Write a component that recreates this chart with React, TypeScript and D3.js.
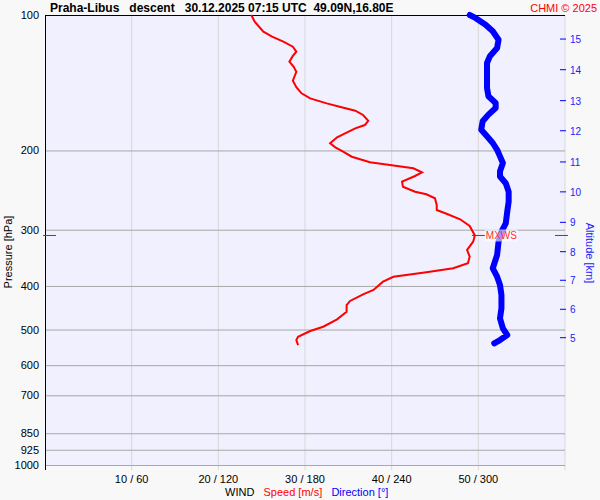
import React, { useRef, useEffect } from 'react';
import * as d3 from 'd3';

// wind speed (m/s) along the descent, with its pressure levels (hPa)
const speedPres = [100, 103.5, 108.9, 111.7, 114.6, 117.6, 120.6, 123.3, 127.0, 130.3, 133.7, 139.9, 144.7, 149.3, 153.2, 157.2, 159.9, 163.2, 166.8, 171.8, 175.6, 178.6, 182.6, 187.0, 192.8, 196.8, 201.3, 206.5, 212.5, 215.4, 219.1, 223.6, 227.9, 234.6, 240.7, 247.0, 250.3, 255.5, 264.4, 271.3, 276.9, 284.4, 294.4, 309.0, 319.0, 332.8, 344.4, 356.3, 365.5, 373.1, 381.6, 391.4, 408.4, 417.5, 432.0, 441.0, 456.4, 474.5, 492.9, 503.8, 518.8, 527.7, 541.3];
const speed = [23.8, 24.2, 25.2, 26.2, 27.5, 28.6, 29.0, 28.6, 28.2, 28.7, 29.0, 28.6, 29.0, 29.6, 30.6, 32.5, 34.0, 35.8, 36.7, 37.3, 36.9, 35.8, 34.8, 33.7, 32.9, 33.5, 34.4, 35.4, 37.5, 39.8, 42.5, 43.5, 42.7, 41.2, 41.3, 42.7, 44.0, 45.0, 45.2, 45.2, 46.4, 47.9, 49.0, 49.6, 49.4, 48.7, 49.0, 48.8, 47.1, 44.0, 40.2, 39.0, 37.9, 36.7, 35.2, 34.8, 34.8, 33.7, 32.1, 30.6, 29.2, 29.0, 29.2];

// wind direction (deg) with its pressure levels (hPa)
const dirPres = [100, 101.5, 105.1, 108.7, 113.5, 118.4, 123.5, 127.8, 135.7, 145.3, 151.6, 156.9, 160.9, 166.5, 172.3, 179.9, 186.0, 192.5, 199.3, 206.1, 213.3, 222.5, 228.5, 236.6, 247.0, 259.9, 273.7, 290.4, 303.1, 319.0, 341.5, 365.5, 381.6, 398.1, 419.0, 448.5, 472.1, 497.0, 514.2, 527.7, 536.6];
const direction = [294, 298, 305, 310, 314, 313, 308, 306, 306, 306, 307, 312, 312, 307, 303, 302, 306, 310, 313, 315, 317, 315, 315, 319, 321, 321, 320, 319, 316, 314, 313, 310, 313, 315, 316, 316, 315, 317, 320, 315, 311];

const pressureTicks = [100, 200, 300, 400, 500, 600, 700, 850, 925, 1000];
const speedTicks = [10, 20, 30, 40, 50];
const dirTicks = [60, 120, 180, 240, 300];
const altKm = [15, 14, 13, 12, 11, 10, 9, 8, 7, 6, 5];
const altPres = [113.1, 132.3, 155.0, 180.8, 212.1, 247.2, 288.9, 335.7, 388.6, 450.8, 521.3];

const title = 'Praha-Libus   descent   30.12.2025 07:15 UTC  49.09N,16.80E';
const FONT = '"Liberation Sans", Arial, sans-serif';

const Sounding = () => {
    const svgRef = useRef<SVGSVGElement>(null);
    useEffect(() => {
        const svg = d3.select(svgRef.current);
        svg.selectAll('*').remove();
        const left = 45, right = 565, top = 15, bottom = 465;

        const y = d3.scaleLog().domain([100, 1000]).range([top, bottom]);
        const x = d3.scaleLinear().domain([0, 60]).range([left, right]);
        const xd = d3.scaleLinear().domain([0, 360]).range([left, right]);

        svg.append('rect').attr('width', 600).attr('height', 500).attr('fill', '#f8f8f8');
        svg.append('rect')
            .attr('x', left).attr('y', top)
            .attr('width', right - left).attr('height', bottom - top)
            .attr('fill', '#f0f0ff');

        // vertical grid (speed)
        svg.selectAll('line.vgrid')
            .data([...speedTicks, 60])
            .join('line')
            .attr('class', 'vgrid')
            .attr('x1', d => x(d)).attr('x2', d => x(d))
            .attr('y1', top).attr('y2', bottom + 5)
            .attr('stroke', '#d8d8d8');

        // horizontal grid (pressure)
        svg.selectAll('line.hgrid')
            .data(pressureTicks)
            .join('line')
            .attr('class', 'hgrid')
            .attr('x1', left).attr('x2', right)
            .attr('y1', d => y(d) + 0.5).attr('y2', d => y(d) + 0.5)
            .attr('stroke', d => (d === 100 ? '#000' : '#a8a8a8'));

        svg.append('line')
            .attr('x1', left + 0.5).attr('x2', left + 0.5)
            .attr('y1', top).attr('y2', bottom + 5)
            .attr('stroke', '#000');

        svg.selectAll('text.plab')
            .data(pressureTicks)
            .join('text')
            .attr('class', 'plab')
            .attr('x', 39).attr('y', d => y(d) + 4)
            .attr('text-anchor', 'end')
            .attr('font-size', 11).attr('font-family', FONT)
            .text(d => d);

        svg.selectAll('text.xlab')
            .data(speedTicks)
            .join('text')
            .attr('class', 'xlab')
            .attr('x', d => x(d)).attr('y', 483)
            .attr('text-anchor', 'middle')
            .attr('font-size', 11).attr('font-family', FONT)
            .text((d, i) => `${d} / ${dirTicks[i]}`);

        const axTitle = svg.append('text')
            .attr('x', 225).attr('y', 496)
            .attr('font-size', 11).attr('font-family', FONT)
            .style('white-space', 'pre');
        axTitle.append('tspan').text('WIND   ');
        axTitle.append('tspan').attr('fill', '#ff0000').text('Speed [m/s]   ');
        axTitle.append('tspan').attr('fill', '#0000ff').text('Direction [°]');

        svg.append('text')
            .attr('transform', 'translate(12,252) rotate(-90)')
            .attr('text-anchor', 'middle')
            .attr('font-size', 11).attr('font-family', FONT)
            .text('Pressure [hPa]');

        // altitude axis on the right
        svg.selectAll('line.atick')
            .data(altPres)
            .join('line')
            .attr('class', 'atick')
            .attr('x1', right - 5).attr('x2', right + 1)
            .attr('y1', d => y(d)).attr('y2', d => y(d))
            .attr('stroke', '#0000ff');
        svg.selectAll('text.alab')
            .data(altKm)
            .join('text')
            .attr('class', 'alab')
            .attr('x', right + 5).attr('y', (d, i) => y(altPres[i]) + 4)
            .attr('fill', '#2020ff')
            .attr('font-size', 10).attr('font-family', FONT)
            .text(d => d);
        svg.append('text')
            .attr('transform', 'translate(586,253) rotate(90)')
            .attr('text-anchor', 'middle')
            .attr('fill', '#2020ff')
            .attr('font-size', 11).attr('font-family', FONT)
            .text('Altitude [km]');

        // wind speed
        const speedLine = d3.line<number>()
            .x(d => x(d))
            .y((d, i) => y(speedPres[i]));
        svg.append('path')
            .attr('d', speedLine(speed))
            .attr('fill', 'none')
            .attr('stroke', '#ff0000')
            .attr('stroke-width', 2);

        // wind direction
        const dirLine = d3.line<number>()
            .x(d => xd(d))
            .y((d, i) => y(dirPres[i]));
        svg.append('path')
            .attr('d', dirLine(direction))
            .attr('fill', 'none')
            .attr('stroke', '#0000ff')
            .attr('stroke-width', 6)
            .attr('stroke-linecap', 'round')
            .attr('stroke-linejoin', 'round');

        // max wind marker
        const mi = d3.maxIndex(speed);
        const mx = x(speed[mi]);
        const my = y(speedPres[mi]);
        const marks = [[left - 2, left + 11], [mx - 3, mx + 10], [right - 10, right + 3]];
        svg.selectAll('line.mxws')
            .data(marks)
            .join('line')
            .attr('class', 'mxws')
            .attr('x1', d => d[0]).attr('x2', d => d[1])
            .attr('y1', my).attr('y2', my)
            .attr('stroke', '#ff0000');
        svg.append('rect')
            .attr('x', mx + 10).attr('y', my - 6)
            .attr('width', 33).attr('height', 12)
            .attr('fill', '#ffffff').attr('fill-opacity', 0.6);
        svg.append('text')
            .attr('x', mx + 11).attr('y', my + 4)
            .attr('fill', '#ff3030')
            .attr('font-size', 10).attr('font-family', FONT)
            .text('MXWS');

        svg.append('text')
            .attr('x', 50).attr('y', 12)
            .attr('font-size', 12).attr('font-weight', 'bold').attr('font-family', FONT)
            .style('white-space', 'pre')
            .text(title);
        svg.append('text')
            .attr('x', 597).attr('y', 12)
            .attr('text-anchor', 'end')
            .attr('fill', '#ff0000')
            .attr('font-size', 11).attr('font-family', FONT)
            .text('CHMI © 2025');
    }, []);

    return <svg ref={svgRef} width={600} height={500}
        style={{ position: 'absolute', left: 0, top: 0, display: 'block' }} />;
};

export default function App() {
    return <Sounding />;
}
